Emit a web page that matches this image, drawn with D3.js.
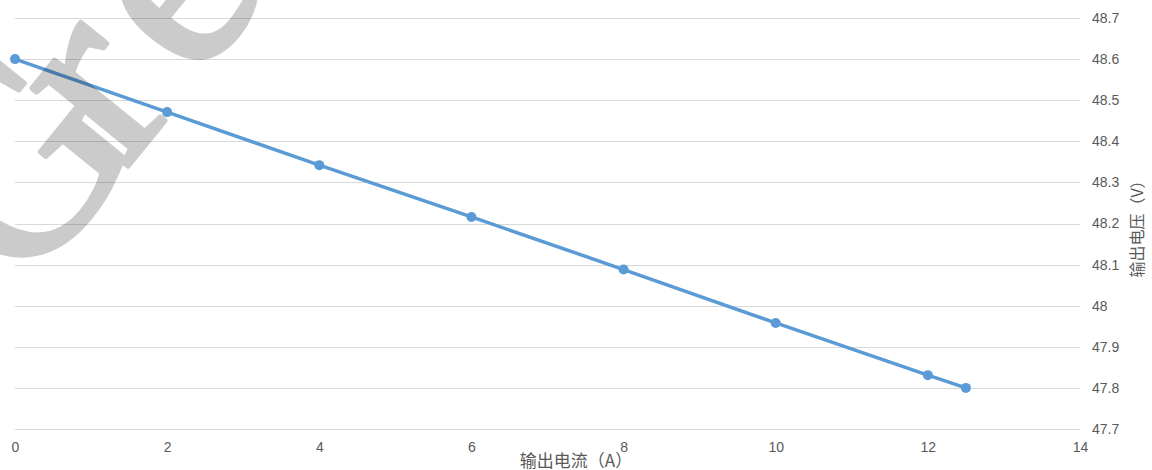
<!DOCTYPE html>
<html>
<head>
<meta charset="utf-8">
<script src="https://cdn.jsdelivr.net/npm/d3@7"></script>
<style>
  body { margin: 0; background: #fff; }
  svg { display: block; }
</style>
</head>
<body>
<div id="chart"></div>
<script>
(function() {
    'use strict';

    // data
    const currents = [0, 2, 4, 6, 8, 10, 12, 12.5];
    const voltages = [48.6, 48.471, 48.342, 48.216, 48.088, 47.958, 47.831, 47.8];
    const xTicks = [0, 2, 4, 6, 8, 10, 12, 14];
    const yTicks = [47.7, 47.8, 47.9, 48, 48.1, 48.2, 48.3, 48.4, 48.5, 48.6, 48.7];

    const width = 1152;
    const height = 470;

    const svg = d3.select("#chart")
        .append("svg")
        .attr("width", width)
        .attr("height", height);

    // scales
    const x = d3.scaleLinear()
        .domain([0, 14])
        .range([15, 1080]);

    const y = d3.scaleLinear()
        .domain([47.7, 48.7])
        .range([429, 18]);

    // gridlines
    svg.append("g")
        .selectAll("line")
        .data(yTicks)
        .join("line")
        .attr("x1", x(0))
        .attr("x2", x(14))
        .attr("y1", d => Math.round(y(d)) + 0.5)
        .attr("y2", d => Math.round(y(d)) + 0.5)
        .attr("stroke", "#d9d9d9")
        .attr("stroke-width", 1);

    // right axis labels
    svg.append("g")
        .attr("transform", `translate(${x(14) + 12}, 0)`)
        .call(d3.axisRight(y).tickValues(yTicks).tickSize(0).tickPadding(0).tickFormat(d3.format("~g")))
        .call(g => g.select(".domain").remove())
        .selectAll("text")
        .attr("fill", "#595959")
        .attr("font-size", "14px")
        .attr("font-family", "'Liberation Sans', sans-serif");

    // bottom axis labels
    svg.append("g")
        .attr("transform", `translate(0, ${y(47.7)})`)
        .call(d3.axisBottom(x).tickValues(xTicks).tickSize(0).tickPadding(13).tickFormat(d3.format("d")))
        .call(g => g.select(".domain").remove())
        .selectAll("text")
        .attr("fill", "#595959")
        .attr("font-size", "14px")
        .attr("font-family", "'Liberation Sans', sans-serif");

    // axis titles
    svg.append("text")
        .attr("x", 576)
        .attr("y", 467)
        .attr("text-anchor", "middle")
        .attr("fill", "#595959")
        .attr("font-size", "17px")
        .attr("font-family", "'Noto Sans CJK SC', sans-serif")
        .text("输出电流（A）");

    svg.append("text")
        .attr("transform", "translate(1143, 225) rotate(-90)")
        .attr("text-anchor", "middle")
        .attr("fill", "#595959")
        .attr("font-size", "16px")
        .attr("font-family", "'Noto Sans CJK SC', sans-serif")
        .text("输出电压（V）");

    // line
    const pts = currents.map((c, i) => [c, voltages[i]]);

    svg.append("path")
        .datum(pts)
        .attr("fill", "none")
        .attr("stroke", "#5b9bd5")
        .attr("stroke-width", 3.5)
        .attr("stroke-linejoin", "round")
        .attr("d", d3.line().x(d => x(d[0])).y(d => y(d[1])));

    svg.append("g")
        .selectAll("circle")
        .data(pts)
        .join("circle")
        .attr("cx", d => x(d[0]))
        .attr("cy", d => y(d[1]))
        .attr("r", 5)
        .attr("fill", "#5b9bd5");

    // watermark, letter by letter so the spacing matches
    const wm = svg.append("g")
        .attr("opacity", 0.2)
        .append("text")
        .attr("transform", "translate(2, 322) rotate(-51)")
        .attr("fill", "#000")
        .attr("stroke", "#000")
        .attr("stroke-width", 5)
        .attr("stroke-linejoin", "round")
        .attr("font-size", "270px")
        .attr("font-family", "'Liberation Serif', serif");

    [["G", 35], ["r", 195], ["e", 306], ["e", 434]].forEach(function(l) {
        wm.append("tspan").attr("x", l[1]).attr("y", 0).text(l[0]);
    });
})();
</script>
</body>
</html>
